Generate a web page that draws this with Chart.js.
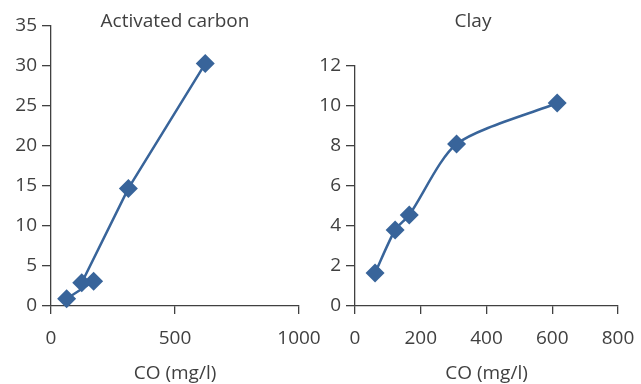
<!DOCTYPE html>
<html>
<head>
<meta charset="utf-8">
<script src="https://cdn.jsdelivr.net/npm/chart.js@4/dist/chart.umd.min.js"></script>
<style>
  html, body { margin:0; padding:0; background:#fff; }
  #wrap { position:relative; width:641px; height:384px; overflow:hidden; }
  canvas { position:absolute; top:0; }
  #left { left:0; }
  #right { left:320px; }
</style>
</head>
<body>
<div id="wrap">
  <canvas id="left" width="320" height="384"></canvas>
  <canvas id="right" width="321" height="384"></canvas>
</div>
<script>
    // values (carbon kept in the order the line joins them)
    const carbonX = [63, 172, 124, 312, 622];
    const carbonY = [0.9, 3.1, 2.9, 14.7, 30.3];
    const clayX = [61, 122, 165, 309, 615];
    const clayY = [1.65, 3.8, 4.55, 8.1, 10.15];

    const carbonTitle = 'Activated carbon';
    const clayTitle = 'Clay';
    const xTitle = 'CO (mg/l)';

    const BLUE = '#38649a';
    const INK = '#404040';
    const FONT = "'Open Sans', 'DejaVu Sans', sans-serif";

    function pts(xs, ys){
      return xs.map((x, i) => ({ x: x, y: ys[i] }));
    }

    // draws the panel title at a fixed spot (does not push the plot down)
    const panelTitle = {
      id: 'panelTitle',
      afterDraw(chart, args, opts){
        const ctx = chart.ctx;
        ctx.save();
        ctx.font = '19px ' + FONT;
        ctx.fillStyle = INK;
        ctx.textAlign = 'center';
        ctx.textBaseline = 'middle';
        ctx.fillText(opts.text, opts.x, opts.y);
        ctx.restore();
      }
    };

    function makePanel(id, xs, ys, cfg){
      const tickFont = { family: FONT, size: 19 };
      return new Chart(document.getElementById(id), {
        type: 'line',
        data: { datasets: [{
          data: pts(xs, ys),
          borderColor: BLUE, backgroundColor: BLUE,
          borderWidth: 2.5, tension: cfg.tension,
          pointStyle: 'rectRot', pointRadius: 9.5, pointBorderWidth: 0,
          pointBackgroundColor: BLUE, clip: false
        }]},
        options: {
          responsive: false, animation: false,
          layout: { padding: { left: 0, right: cfg.padRight, top: cfg.padTop, bottom: 0 } },
          plugins: {
            legend: { display: false }, tooltip: { enabled: false }, title: { display: false },
            panelTitle: { text: cfg.title, x: cfg.titleX, y: 22 }
          },
          scales: {
            x: {
              type: 'linear', min: 0, max: cfg.xMax,
              ticks: { stepSize: cfg.xStep, color: INK, font: tickFont, padding: 13, maxRotation: 0,
                       callback: v => String(v) },
              grid: { drawOnChartArea: false, drawTicks: true, tickLength: 8, color: INK, lineWidth: 1.3 },
              border: { display: true, color: INK, width: 1.3 },
              title: { display: true, text: xTitle, color: INK, font: tickFont, padding: { top: 0, bottom: -1 } },
              afterFit(s){ s.height = 384 - 306; s.paddingLeft = 0; s.paddingRight = 0; }
            },
            y: {
              min: 0, max: cfg.yMax,
              ticks: { stepSize: cfg.yStep, color: INK, font: tickFont, padding: 5 },
              grid: { drawOnChartArea: false, drawTicks: true, tickLength: 9, color: INK, lineWidth: 1.3 },
              border: { display: true, color: INK, width: 1.3 },
              afterFit(s){ s.width = cfg.yWidth; s.paddingTop = 0; s.paddingBottom = 0; }
            }
          }
        },
        plugins: [panelTitle]
      });
    }

    makePanel('left', carbonX, carbonY, {
      title: carbonTitle, titleX: 175, xMax: 1000, xStep: 500, yMax: 35, yStep: 5,
      padTop: 26, padRight: 21, yWidth: 51, tension: 0
    });
    makePanel('right', clayX, clayY, {
      title: clayTitle, titleX: 153, xMax: 800, xStep: 200, yMax: 12, yStep: 2,
      padTop: 66, padRight: 23, yWidth: 35, tension: 0.25
    });
</script>
</body>
</html>
